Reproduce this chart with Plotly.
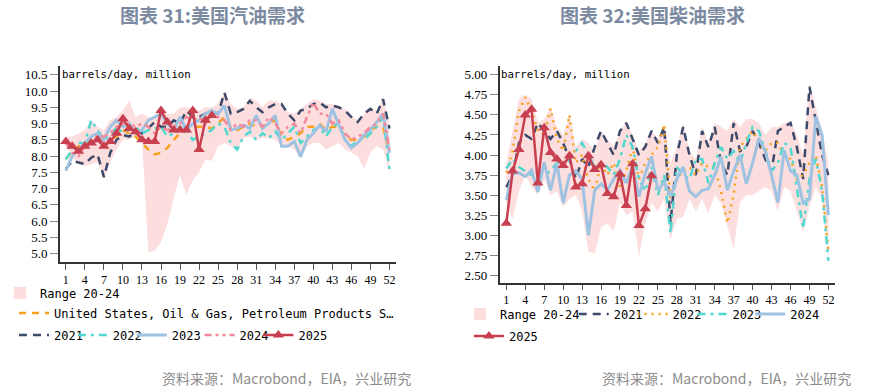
import plotly.graph_objects as go

W, H = 876, 389

weeks = list(range(1, 53))
x_ticks = list(range(1, 53, 3))

# ---------------- Gasoline (left) ----------------
gas_hi = [8.6, 8.6, 8.7, 8.8, 9.1, 8.9, 8.8, 9.1, 9.2, 9.4, 9.7, 9.2, 9.3, 9.2, 9.2, 9.5, 9.3, 9.3, 9.5, 9.5,
          9.4, 9.4, 9.5, 9.5, 9.6, 10.0, 9.6, 9.45, 9.5, 9.8, 9.7, 9.5, 9.7, 9.7, 9.6, 9.35, 9.3, 9.45, 9.6, 9.75,
          9.7, 9.6, 9.6, 9.5, 9.45, 9.25, 9.1, 9.3, 9.5, 9.4, 9.8, 8.95]
gas_lo = [8.4, 7.95, 7.75, 7.7, 7.75, 7.8, 7.3, 7.8, 8.2, 8.5, 8.5, 8.6, 8.55, 5.05, 5.08, 5.35, 5.9, 6.7, 7.4, 6.8,
          7.25, 7.5, 7.9, 7.85, 8.3, 8.4, 8.3, 8.2, 8.55, 8.6, 8.5, 8.55, 8.55, 8.5, 8.3, 8.3, 8.2, 7.95, 8.3, 8.4,
          8.4, 8.2, 8.3, 8.4, 8.2, 8.1, 8.0, 7.6, 8.1, 8.3, 8.2, 7.5]
gas_us = [7.9, 8.15, 8.3, 8.3, 8.5, 8.6, 8.3, 8.5, 8.6, 8.8, 8.7, 8.6, 8.4, 8.2, 8.05, 8.1, 8.25, 8.5, 8.7, 8.8,
          8.9, 8.9, 8.9, 8.85, 9.0, 9.2, 8.9, 8.8, 8.9, 9.0, 8.9, 8.9, 9.0, 9.1, 8.6, 8.5, 8.6, 8.7, 8.9, 8.9,
          9.0, 8.8, 8.9, 8.9, 8.6, 8.5, 8.5, 8.6, 8.8, 8.9, 8.9, 8.1]
gas_2021 = [7.6, 7.85, 7.8, 7.75, 7.95, 8.05, 7.35, 8.1, 8.5, 8.65, 8.6, 8.75, 8.7, 8.85, 9.05, 8.9, 8.9, 9.1, 9.0, 9.4,
            9.2, 9.2, 9.3, 9.35, 9.3, 9.95, 9.3, 9.35, 9.45, 9.7, 9.5, 9.35, 9.5, 9.6, 9.6, 9.3, 9.1, 9.4, 9.45, 9.6,
            9.65, 9.5, 9.55, 9.5, 9.4, 9.2, 9.05, 9.3, 9.45, 9.3, 9.75, 8.85]
gas_2022 = [7.9, 8.2, 8.4, 8.4, 9.1, 8.8, 8.5, 8.6, 8.9, 8.7, 8.85, 8.9, 8.7, 8.8, 8.85, 8.9, 8.6, 8.7, 8.9, 8.8,
            8.5, 8.6, 8.7, 8.8, 9.0, 8.9, 8.4, 8.2, 8.6, 8.75, 8.5, 8.7, 8.55, 8.75, 8.5, 8.7, 8.9, 8.4, 8.6, 8.8,
            8.9, 8.6, 8.9, 9.0, 8.5, 8.3, 8.5, 8.5, 8.7, 8.9, 9.2, 7.6]
gas_2023 = [7.55, 8.0, 8.2, 8.4, 8.6, 8.7, 8.5, 8.9, 9.1, 8.9, 9.0, 8.7, 8.8, 9.1, 9.2, 9.3, 9.0, 8.8, 9.2, 8.8,
            9.0, 9.1, 9.3, 9.4, 9.3, 9.55, 8.8, 8.85, 8.95, 8.85, 9.25, 8.85, 9.0, 9.25, 8.3, 8.3, 8.45, 7.98, 8.5, 8.7,
            8.95, 8.75, 9.45, 8.95, 8.5, 8.25, 8.4, 8.65, 8.8, 9.05, 9.3, 8.1]
gas_2024 = [8.4, 8.1, 8.0, 8.3, 8.4, 8.6, 8.6, 8.7, 8.9, 9.0, 9.0, 8.9, 9.0, 8.9, 8.7, 8.9, 8.8, 8.9, 9.0, 9.2,
            9.1, 9.2, 9.0, 9.3, 9.2, 9.1, 8.8, 9.0, 8.9, 9.1, 9.1, 8.9, 9.2, 9.0, 8.7, 8.9, 9.0, 8.7, 9.2, 9.65,
            9.3, 9.3, 9.0, 9.1, 8.7, 8.5, 8.6, 8.7, 8.9, 9.0, 9.3, 8.2]
gas_2025 = [8.45, 8.3, 8.15, 8.3, 8.4, 8.5, 8.3, 8.45, 8.7, 9.15, 8.85, 8.75, 8.5, 8.45, 8.45, 9.4, 9.05, 8.8, 8.8, 8.8,
            9.4, 8.2, 9.1, 9.25]

# ---------------- Diesel (right) ----------------
dsl_hi = [3.9, 4.3, 4.7, 4.75, 4.7, 4.4, 4.45, 4.6, 4.35, 4.25, 4.5, 4.1, 4.2, 4.15, 4.05, 4.3, 4.2, 4.1, 4.3, 4.42,
          4.25, 4.05, 4.15, 4.3, 4.2, 4.4, 3.9, 4.1, 4.4, 4.05, 3.95, 4.35, 4.15, 4.4, 4.35, 4.3, 4.45, 4.35, 4.45, 4.45,
          4.4, 4.25, 4.35, 4.35, 4.4, 4.42, 4.25, 4.0, 4.9, 4.6, 4.3, 3.9]
dsl_lo = [3.4, 3.2, 3.55, 3.75, 3.6, 3.5, 3.7, 3.5, 3.55, 3.35, 3.45, 3.5, 3.3, 2.8, 2.77, 3.1, 3.15, 3.05, 3.4, 3.25,
          3.3, 2.73, 3.15, 3.4, 3.3, 3.45, 2.95, 3.2, 3.23, 3.45, 3.3, 3.45, 3.27, 3.5, 3.4, 3.1, 2.83, 3.4, 3.5, 3.5,
          3.55, 3.6, 3.55, 3.3, 3.6, 3.55, 3.3, 3.05, 3.35, 3.6, 3.45, 2.65]
dsl_2021 = [3.6, 3.75, 4.15, 4.25, 4.2, 4.4, 4.3, 4.2, 4.3, 4.15, 3.95, 3.7, 3.95, 3.85, 4.1, 4.3, 4.15, 4.0, 4.3, 4.4,
            4.2, 4.0, 4.1, 4.3, 4.15, 4.35, 3.15, 4.0, 4.35, 4.0, 3.75, 4.3, 4.1, 4.35, 3.9, 3.75, 4.4, 4.05, 4.1, 4.3,
            4.15, 3.95, 3.8, 4.3, 4.35, 4.4, 4.1, 3.7, 4.85, 4.4, 4.0, 3.75]
dsl_2022 = [3.78, 4.05, 4.55, 4.72, 4.55, 4.3, 4.25, 4.58, 4.2, 4.05, 4.5, 3.9, 4.0, 3.7, 3.55, 3.9, 3.75, 3.9, 3.6, 3.8,
            4.1, 3.7, 3.9, 4.0, 4.1, 4.38, 3.45, 3.7, 3.8, 3.85, 3.75, 3.9, 3.85, 3.85, 3.55, 3.15, 3.5, 4.1, 4.2, 4.3,
            4.15, 4.05, 4.15, 4.15, 4.0, 3.95, 3.7, 3.75, 3.9, 4.0, 3.6, 2.8]
dsl_2023 = [3.83, 3.95, 3.85, 3.8, 3.75, 3.8, 3.75, 3.8, 3.9, 3.85, 3.95, 4.05, 4.15, 4.0, 3.85, 3.9, 3.85, 3.75, 3.95, 4.25,
            4.1, 3.7, 3.55, 3.85, 3.5, 3.75, 3.02, 3.85, 3.75, 3.7, 3.95, 3.95, 3.65, 3.9, 4.1, 3.95, 4.05, 3.9, 4.15, 4.35,
            4.3, 4.05, 3.8, 3.9, 4.15, 4.1, 3.6, 3.08, 3.7, 3.95, 3.55, 2.68]
dsl_2024 = [3.44, 3.77, 3.78, 3.73, 3.81, 3.54, 3.91, 3.56, 3.9, 3.4, 3.75, 3.8, 3.7, 3.0, 3.56, 3.64, 3.56, 3.7, 3.81, 3.65,
            3.86, 3.48, 3.77, 3.98, 3.56, 3.66, 3.48, 3.7, 3.85, 3.55, 3.48, 3.56, 3.58, 3.75, 3.98, 3.56, 3.8, 4.0, 3.64, 3.9,
            4.21, 4.05, 3.75, 3.41, 4.06, 3.8, 3.75, 3.4, 3.45, 4.48, 4.25, 3.25]
dsl_2025 = [3.15, 3.8, 4.07, 4.5, 4.57, 3.65, 4.34, 4.03, 3.95, 3.87, 3.99, 3.6, 3.64, 3.99, 3.82, 3.88, 3.52, 3.48, 3.76, 3.37,
            3.89, 3.12, 3.33, 3.74]

gas_ticks = [5.0, 5.5, 6.0, 6.5, 7.0, 7.5, 8.0, 8.5, 9.0, 9.5, 10.0, 10.5]
dsl_ticks = [2.5, 2.75, 3.0, 3.25, 3.5, 3.75, 4.0, 4.25, 4.5, 4.75, 5.0]

# ---------------- styles ----------------
BAND = "#fddede"
NAVY = "#3b4a6b"
TURQ = "#4ed8cf"
LBLUE = "#9dc2e2"
PINK = "#f4899b"
ORANGE = "#f6a21c"
RED = "#c8404f"
MONO = "DejaVu Sans Mono"
SERIF = "Liberation Serif"

fig = go.Figure()


def band(x, lo, hi, xa, ya, leg):
    fig.add_trace(go.Scatter(x=x, y=lo, mode="lines", line=dict(width=0, color=BAND),
                             showlegend=False, hoverinfo="skip", xaxis=xa, yaxis=ya))
    fig.add_trace(go.Scatter(x=x, y=hi, mode="lines", line=dict(width=0, color=BAND), fill="tonexty",
                             fillcolor=BAND, name="Range 20-24", showlegend=False, xaxis=xa, yaxis=ya))
    # legend entry: small pink square
    fig.add_trace(go.Scatter(x=[None], y=[None], mode="markers", name="Range 20-24",
                             marker=dict(symbol="square", size=12, color=BAND),
                             xaxis=xa, yaxis=ya, legend=leg))


def line(x, y, name, color, dash, width, xa, ya, leg, marker=False):
    if marker:
        kw = dict(mode="lines+markers", marker=dict(symbol="triangle-up", size=10, color=color))
    else:
        kw = dict(mode="lines")
    fig.add_trace(go.Scatter(x=x, y=y, name=name, line=dict(color=color, dash=dash, width=width),
                             xaxis=xa, yaxis=ya, legend=leg, **kw))


# left
band(weeks, gas_lo, gas_hi, "x", "y", "legend")
line(weeks, gas_us, "United States, Oil & Gas, Petroleum Products S…", ORANGE, "7px,6px", 2.5, "x", "y", "legend2")
line(weeks, gas_2021, "2021", NAVY, "8px,6px", 2.5, "x", "y", "legend3")
line(weeks, gas_2022, "2022", TURQ, "8px,5px,3px,5px", 2.5, "x", "y", "legend4")
line(weeks, gas_2023, "2023", LBLUE, "solid", 3, "x", "y", "legend5")
line(weeks, gas_2024, "2024", PINK, "7px,4px,3px,4px,3px,4px", 2.5, "x", "y", "legend6")
line(weeks[:len(gas_2025)], gas_2025, "2025", RED, "solid", 2.5, "x", "y", "legend7", marker=True)

# right
band(weeks, dsl_lo, dsl_hi, "x2", "y2", "legend8")
line(weeks, dsl_2021, "2021", NAVY, "8px,6px", 2.5, "x2", "y2", "legend9")
line(weeks, dsl_2022, "2022", ORANGE, "2px,5px", 2.5, "x2", "y2", "legend10")
line(weeks, dsl_2023, "2023", TURQ, "8px,5px,3px,5px", 2.5, "x2", "y2", "legend11")
line(weeks, dsl_2024, "2024", LBLUE, "solid", 3, "x2", "y2", "legend12")
line(weeks[:len(dsl_2025)], dsl_2025, "2025", RED, "solid", 2.5, "x2", "y2", "legend13", marker=True)


def px(v):
    return v / W


def py(v):
    return 1 - v / H


axis_base = dict(showline=True, linecolor="#333333", linewidth=1.5, ticks="outside", showgrid=False,
                 zeroline=False)
xfont = dict(family=SERIF, size=12, color="#000")
yfont = dict(family=SERIF, size=13, color="#000")

layout = dict(
    width=W, height=H, autosize=False, margin=dict(l=0, r=0, t=0, b=0),
    paper_bgcolor="white", plot_bgcolor="white",
    xaxis=dict(domain=[px(58), px(395)], range=[0.06, 53.05], tickvals=x_ticks, ticklen=6,
               tickcolor="#555", anchor="y", tickfont=xfont, **axis_base),
    yaxis=dict(domain=[py(262), py(66)], range=[4.74, 10.77], tickvals=gas_ticks, tickformat=".1f",
               ticklen=8, tickcolor="#888", anchor="x", tickfont=yfont, **axis_base),
    xaxis2=dict(domain=[px(498.7), px(835)], range=[-0.07, 53.06], tickvals=x_ticks, ticklen=5,
                tickcolor="#555", anchor="y2", tickfont=xfont, **axis_base),
    yaxis2=dict(domain=[py(283.3), py(66)], range=[2.40, 5.11], tickvals=dsl_ticks, tickformat=".2f",
                ticklen=8, tickcolor="#888", anchor="x2", tickfont=yfont, **axis_base),
)


def leg(text_x, row_y):
    return dict(x=px(text_x - 40), y=py(row_y), xanchor="left", yanchor="middle", orientation="h",
                bgcolor="rgba(0,0,0,0)", borderwidth=0, itemwidth=30,
                font=dict(family=MONO, size=12, color="#000"))


legend_pos = {
    "legend": (38, 293), "legend2": (52, 313), "legend3": (52, 335), "legend4": (111, 335),
    "legend5": (170, 335), "legend6": (238, 335), "legend7": (297, 335),
    "legend8": (499, 314), "legend9": (613, 314), "legend10": (672, 314), "legend11": (732, 314),
    "legend12": (790, 314), "legend13": (508, 336),
}
for k, (tx, ty) in legend_pos.items():
    layout[k] = leg(tx, ty)

fig.update_layout(**layout)

TITLE_COLOR = "#7b8aa0"
for text, cx in (("图表 31:美国汽油需求", 211), ("图表 32:美国柴油需求", 652)):
    fig.add_annotation(text=text, x=px(cx), y=py(14), xref="paper", yref="paper", showarrow=False,
                       xanchor="center", yanchor="middle",
                       font=dict(family="Noto Sans CJK SC", size=19, color=TITLE_COLOR, weight="bold"))

for x0 in (58, 498):
    fig.add_annotation(text="barrels/day, million", x=px(x0), y=py(74), xref="paper", yref="paper",
                       showarrow=False, xanchor="left", yanchor="middle",
                       font=dict(family=MONO, size=10.7, color="#000"))

for xend in (412, 853):
    fig.add_annotation(text="资料来源：Macrobond，EIA，兴业研究", x=px(xend), y=py(378), xref="paper",
                       yref="paper", showarrow=False, xanchor="right", yanchor="middle",
                       font=dict(family="Noto Sans CJK SC", size=14, color="#8c8c8c"))

fig.write_html("out.html", config={"displayModeBar": False},
               post_script="document.body.style.margin='0px';document.body.style.overflow='hidden';")
